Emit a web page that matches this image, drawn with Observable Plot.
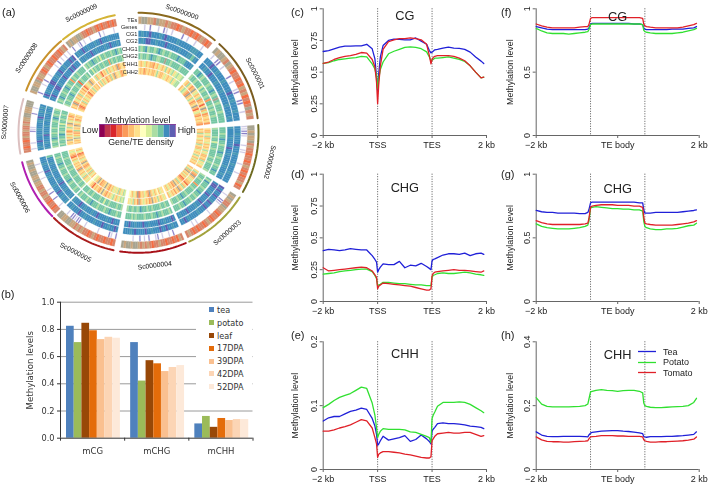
<!DOCTYPE html>
<html><head><meta charset="utf-8">
<script src="https://cdn.jsdelivr.net/npm/d3@7"></script>
<script src="https://cdn.jsdelivr.net/npm/@observablehq/plot@0.6"></script>
<style>
html,body{margin:0;padding:0;background:#fff}
#root{position:relative;width:709px;height:484px;overflow:hidden;font-family:"Liberation Sans",Arial,sans-serif;color:#222;filter:blur(0.3px)}
#root>svg,#root>div{position:absolute}
.tag{font-size:11px;line-height:12px}
</style></head><body><div id="root"></div>
<script>
// ---------- panel (a) data ----------
const paletteKeys = "abcdefghijklmnopqrs".split("");
const paletteColors = ["#8e0152","#c0354d","#d9262a","#f46d43","#fb9a5a","#fdbf6f","#fee08b","#ffffbf","#d9ef9b","#abdda4","#74c6a3","#3f8dbd","#5e5fb2",
  "#a8a491","#c9a67f","#d8866a","#8a80c8","#cfcbe6","#4a9bb5"];
const legendKeys = "abcdefghijklm".split("");
const sectorNames = ["Sc0000000","Sc0000001","Sc0000002","Sc0000003","Sc0000004","Sc0000005","Sc0000006","Sc0000007","Sc0000008","Sc0000009"];
const sectorStart = [0,42.4,86.3,122.6,156.8,192,225.9,260,290.6,321];
const sectorEnd = [39.5,83,119.5,155,188.8,224.8,255.8,286.4,319.8,348.6];
const sectorColors = ["#8b6a1e","#7a5c1f","#6e6a20","#a2a23c","#a81018","#a81c1c","#b01fb0","#dcc0c0","#c8922c","#d4b436"];
const labelAngle = [19.8,63,102.6,138.4,173,207.8,241.5,274.5,303.8,334.5];
const labelRadius = [128.5,131,134.6,133.6,133.6,135,135,134,134.7,133];
const trackNames = ["TEs","Genes","CG1","CG2","CHG1","CHG2","CHH1","CHH2"];
const trackOuter = [116,108.5,102,95,87,79.5,72,65];
const trackInner = [109,103,96,89,81,73.5,66,58.5];
const trackLabelRadius = [112.7,106,99,92,84,76.7,68.7,61];
const trackCellShare = [1,.45,1,1,1,1,1,1];
const sector0 = ["onnoopnoopoppdpoppdpdpopdp","..r.q..r.qr.r...q.r..r..r.","lsllmlllslmllllslllllsssll","lslmmllslllmlllllslllssksl","kjksjkkjkskjkkjkkkskkkslls","kjkkjkskkjjkknkkjkkkkjkkkk","gfgifgffegfigfgjgfijgijiij","gfgefgfgffgjgffgigfggjgijj"];
const sector1 = ["nonnopnopdppdpdopodpdpnpop",".r.qq.r...q.r..rq..qq..r..","lllmllslllsllllmllslllslll","llsllmlllslllslllllsllllsl","kkskjkkkjkkskjknkjkkkjkkkk","jkkjkkkikjkkjkekkjkjkkjkkk","gfjgefngifgjefgdgnfiefgfge","fgjifenfgjgefgnfdgifegfgfe"];
const sector2 = ["nnonoonpoppdppdpopdpdppodp","rrqqr...r.rr....r...r.....","lllsllllmlllsllllslllsllll","sllllsllllmllslllllslllsll","kkkjkkskkjkkkskkjkkkjkkskk","jkkkkjkkikkkjkkkkjkkjkkkkj","gffigjfggifgfgjgiffgfjgigf","fgfjgfgifgfjgffigfgjgfifgf"];
const sector3 = ["nonoppnoopdppdpopdppdpdpop","..r..qqr.....r......r.r....","mlmllmllsmllmlllsllllslmll","lmmllslmllllmllsllllmlllsl","kjskkkjkkskkjkkjkkkskkjkkk","jkkjkkkekkjkkkkjkkskkjkkkj","gjfenfgigffdgfjgfnfgegfgif","fgjfngfifgdefgjfgnfegfgifg"];
const sector4 = ["podpdppdppoppdpopoponnonnon","...q.r..r.qr..q.r.q..r....","llsllmllmlllsllmllllmlslll","lmlllsllmllllsllmlllsllmll","kjkkkjkkskkjkkkjkkkkjkjkkk","kkjkkjkkkkjkkjkkkskjkkjkkj","gigfgjgfgnfegfgigfnegfjgig","ggifhgfigfnefgifgfdnfgifgh"];
const sector5 = ["pdppdppdpopdppopopoonnoonn","q.rq....r.....r..qqrqq.r..","lmllsllmlllsllllsllmlllsll","lllmllsllllmllslllsllmllls","kkjkkkskkjkkkjkkkskkjkkkjk","jkkjkkkkjkkikkjkkkkjkkjkkk","jijgifgjigfgefgngefgfgdfgh","ijgifjgigifgefgngffegnfgih"];
const sector6 = ["ppdppdppoppoppoonoonnonnon",".r...q..q.r.....r..r...r..","sllsllmlllsllllsllmlllslll","lslllslllmllsllllslllslllk","kkjkkkjkskkkjkkkjkkskkkjkk","jkkjkkkkjkkkkjkkjkkkkjkkkk","gigfjgifgfnegfgfgifgdefgig","fgifjgfigfefgnfgifgfedgifg"];
const sector7 = ["ppdppdpoppoppopoonnooonnn",".r..r.....qrr......q..r..","lsllmllsllslllslmllslsl","sllslllmslllsllslllslls","jkkjkskkjkkjkkkjkskjkkj","kjkkjkkskjkkjkikkjkkjkk","gfgngfifgefgjgfngifgefg","fgfgnifgefjgfgnfgifegfg"];
const sector8 = ["onnoonpoopdpopdppdppdpop",".q...r.q..r....r.q.r.r.r","lmlslllmmllsllmllslllmlm","llmlllmmlslllmllllmlmlll","kjkskkjkkskjkkekjkkjkkkk","jkkjkkkskjkkkjkkdkjkkkjk","fgfnegifgfjgfgegdfgifnfg","gfedfgfjgfigfgedgfgjgfgf"];
const sector9 = ["nonoonnoppdppopdpdppdpdp",".q..rq.r..r....q.r....r.","lsllmllslllsllmlllslllll","sllslllmllsllllsllmlllsl","jkjkkskkjkikkjkkkjkkskjk","kkikjkkjkkjkkkekjkkjkkkj","gjfgifdgfgjgfgifgfnefggf","fgjgfigefgfjgfnfggifefgg"];
const sectorTracks = [sector0,sector1,sector2,sector3,sector4,sector5,sector6,sector7,sector8,sector9];

// ---------- panel (b) data ----------
const barGroups = ["mCG","mCHG","mCHH"];
const barSeries = ["tea","potato","leaf","17DPA","39DPA","42DPA","52DPA"];
const barColors = ["#4f81bd","#9bbb59","#984807","#e46c0a","#fac090","#fcd5b5","#fde9d9"];
const mCG = [.823,.703,.845,.79,.725,.742,.735];
const mCHG = [.703,.42,.57,.547,.49,.52,.534];
const mCHH = [.105,.16,.08,.145,.13,.137,.137];

// ---------- panels (c-h) data ----------
const species = ["Tea","Potato","Tomato"];
const speciesColors = ["#2020d8","#30e030","#e02028"];
const geneX = [0,.1,.2,.3,.4,.5,.6,.7,.8,.9,.95,.98,1,1.02,1.05,1.1,1.2,1.3,1.4,1.5,1.6,1.7,1.8,1.9,1.95,1.98,2,2.02,2.05,2.1,2.2,2.3,2.4,2.5,2.6,2.7,2.8,2.9,2.95];
const teX = [0,.1,.2,.3,.4,.5,.6,.7,.8,.9,.95,.97,1,1.03,1.1,1.2,1.3,1.4,1.5,1.6,1.7,1.8,1.9,1.96,1.98,2,2.03,2.1,2.2,2.3,2.4,2.5,2.6,2.7,2.8,2.9,2.95];
const cgTea = [.663,.67,.684,.697,.705,.705,.707,.708,.72,.684,.605,.46,.355,.487,.62,.71,.75,.76,.758,.755,.755,.77,.745,.72,.67,.653,.658,.665,.676,.68,.69,.697,.69,.687,.68,.658,.62,.587,.568];
const cgPotato = [.57,.575,.59,.60,.605,.61,.615,.625,.62,.565,.525,.47,.37,.45,.52,.58,.645,.665,.68,.695,.70,.695,.685,.66,.62,.59,.595,.60,.61,.61,.615,.62,.61,.60,.585,.55,.50,.455,.46];
const cgTomato = [.57,.58,.60,.615,.625,.63,.64,.655,.65,.60,.54,.42,.25,.40,.55,.68,.74,.755,.765,.765,.77,.765,.755,.72,.63,.565,.60,.615,.625,.63,.63,.63,.625,.61,.59,.55,.50,.455,.46];
const chgTea = [.40,.41,.405,.40,.405,.415,.41,.405,.405,.36,.33,.31,.23,.25,.27,.295,.29,.29,.315,.265,.285,.28,.30,.275,.26,.25,.32,.33,.335,.345,.365,.375,.375,.37,.38,.36,.375,.38,.37];
const chgPotato = [.215,.22,.225,.235,.24,.245,.25,.255,.255,.235,.205,.18,.125,.13,.135,.15,.15,.145,.14,.14,.135,.13,.13,.125,.125,.125,.19,.205,.21,.22,.225,.22,.22,.225,.23,.225,.215,.21,.205];
const chgTomato = [.265,.24,.245,.25,.255,.26,.265,.27,.265,.24,.21,.19,.10,.12,.13,.145,.14,.135,.13,.125,.12,.11,.10,.09,.09,.10,.20,.22,.23,.235,.24,.245,.25,.245,.245,.24,.235,.23,.24];
const chhTea = [.076,.081,.083,.083,.087,.091,.093,.096,.094,.08,.068,.055,.038,.04,.045,.052,.046,.048,.05,.053,.044,.047,.054,.048,.044,.04,.06,.063,.066,.072,.073,.072,.072,.071,.07,.068,.067,.066,.064];
const chhPotato = [.097,.102,.108,.113,.116,.119,.124,.129,.127,.104,.085,.065,.05,.055,.06,.064,.063,.063,.063,.062,.059,.058,.055,.052,.05,.042,.08,.085,.09,.099,.105,.105,.105,.106,.105,.102,.097,.092,.089];
const chhTomato = [.06,.06,.062,.065,.067,.07,.074,.078,.076,.065,.05,.04,.019,.024,.026,.028,.028,.027,.026,.024,.023,.021,.019,.018,.018,.02,.045,.048,.052,.056,.057,.058,.057,.057,.058,.058,.055,.052,.053];
const teCgTea = [.86,.85,.84,.835,.835,.835,.835,.835,.835,.835,.84,.85,.88,.885,.885,.885,.885,.885,.885,.885,.885,.88,.88,.875,.85,.84,.835,.835,.835,.835,.835,.84,.84,.84,.845,.85,.86];
const teCgPotato = [.845,.825,.81,.805,.805,.805,.80,.805,.81,.815,.82,.835,.875,.88,.88,.88,.88,.88,.88,.88,.88,.88,.88,.875,.83,.82,.815,.81,.805,.805,.805,.805,.81,.815,.825,.835,.845];
const teCgTomato = [.88,.865,.855,.85,.85,.85,.85,.85,.855,.86,.86,.875,.925,.93,.93,.93,.93,.93,.93,.93,.93,.93,.93,.925,.88,.865,.86,.855,.85,.85,.85,.85,.85,.855,.865,.875,.885];
const teChgTea = [.715,.705,.70,.70,.695,.695,.695,.695,.69,.69,.70,.72,.775,.78,.78,.78,.78,.78,.78,.78,.78,.78,.775,.775,.72,.695,.695,.695,.70,.70,.70,.70,.70,.705,.71,.715,.72];
const teChgPotato = [.61,.59,.58,.575,.57,.57,.57,.575,.58,.59,.60,.63,.735,.74,.745,.74,.735,.73,.73,.725,.725,.72,.72,.71,.63,.59,.58,.57,.565,.565,.57,.57,.575,.585,.595,.60,.615];
const teChgTomato = [.635,.62,.61,.605,.605,.605,.605,.605,.605,.61,.615,.65,.74,.75,.755,.76,.76,.76,.755,.755,.755,.75,.75,.74,.66,.615,.61,.605,.60,.60,.60,.60,.605,.61,.615,.625,.635];
const teChhTea = [.118,.108,.104,.103,.103,.104,.104,.104,.104,.103,.102,.108,.114,.116,.118,.12,.121,.122,.122,.12,.119,.117,.115,.112,.103,.102,.101,.103,.103,.103,.104,.104,.105,.106,.108,.11,.118];
const teChhPotato = [.225,.205,.198,.196,.196,.196,.196,.197,.198,.20,.205,.22,.243,.245,.248,.25,.248,.247,.245,.247,.248,.248,.245,.24,.208,.20,.198,.195,.194,.194,.195,.196,.197,.198,.20,.21,.223];
const teChhTomato = [.102,.093,.088,.087,.087,.086,.086,.087,.088,.089,.09,.096,.102,.103,.104,.106,.106,.106,.105,.105,.104,.104,.104,.102,.093,.09,.088,.086,.086,.087,.087,.088,.089,.09,.092,.095,.102];

const root = document.getElementById("root");
const add = (el, left, top) => { el.style.position="absolute"; el.style.left=left+"px"; el.style.top=top+"px"; root.appendChild(el); return el; };
const sans = '"Liberation Sans",Arial,sans-serif';

// ---------- panel (a): circular tracks, polar angle/radius projection ----------
const polar = d3.geoTransform({point(a, r){
  const t = a*Math.PI/180;
  this.stream.point(138 + r*Math.sin(t), 132.3 - r*Math.cos(t));
}});
const cells = [];
sectorTracks.forEach((tracks, s) => tracks.forEach((str, t) => {
  const n = str.length, a0 = sectorStart[s], step = (sectorEnd[s]-a0)/n;
  str.split("").forEach((c, i) => {
    if (c === ".") return;
    const a1 = a0+i*step, a2 = a1+step*trackCellShare[t], am = (a1+a2)/2, r1 = trackInner[t], r2 = trackOuter[t];
    cells.push({c, type:"Polygon", coordinates:[[[a1,r1],[a1,r2],[am,r2],[a2,r2],[a2,r1],[am,r1],[a1,r1]]]});
  });
}));
const ringMarks = sectorStart.map((a0,s) => {
  const coords = d3.range(0,25).map(k => [a0+(sectorEnd[s]-a0)*k/24, 120]);
  return Plot.geo([{type:"LineString",coordinates:coords}],{stroke:sectorColors[s],strokeWidth:2,fill:"none"});
});
const labelRows = sectorNames.map((name,i)=>({name,a:labelAngle[i],r:labelRadius[i]}));
const trackRows = trackNames.map((name,i)=>({name,r:trackLabelRadius[i]}));
add(Plot.plot({
  width:280,height:270,margin:0,style:{background:"transparent",filter:"blur(0.35px)"},
  projection:{stream:polar.stream},
  color:{type:"ordinal",domain:paletteKeys,range:paletteColors},
  marks:[
    Plot.geo(cells,{fill:"c",stroke:"c",strokeWidth:.2}),
    ...ringMarks,
    Plot.text(labelRows,{x:"a",y:"r",text:"name",fontSize:6.8,fontFamily:sans,fill:"#111",
      rotate:d=>d.a<135?d.a:(d.a<270?d.a-180:d.a-360)}),
    Plot.text(trackRows,{x:()=>-0.6,y:"r",text:"name",textAnchor:"end",fontSize:5.6,fontFamily:sans,fill:"#222"})
  ]
}),0,0);

// legend bar of panel (a)
add(Plot.plot({
  width:76.4,height:13,margin:0,
  x:{type:"band",domain:legendKeys,padding:0,round:false,axis:null},
  color:{type:"ordinal",domain:paletteKeys,range:paletteColors},
  marks:[Plot.cell(legendKeys,{x:d=>d,fill:d=>d}),Plot.frame({stroke:"#8a3a9a",strokeWidth:.8})]
}),99.3,124.3);
[["Methylation level",137.7,120],["Gene/TE density",141,141.7],["Low",90,129.5],["High",186.7,129.5]].forEach(([t,x,y])=>{
  const d=document.createElement("div");d.textContent=t;
  d.style.cssText="font-size:8.8px;white-space:nowrap;transform:translate(-50%,-50%);line-height:10px;color:#222";
  add(d,x,y);
});

// ---------- panel (b) ----------
const barGroupValues = [mCG,mCHG,mCHH];
const barRows = barGroups.flatMap((g,gi)=>barSeries.map((s,si)=>({g:gi,s,v:barGroupValues[gi][si],x1:gi+.0935+si*.12,x2:gi+.0935+(si+1)*.12})));
const bf = '"DejaVu Sans",sans-serif';
add(Plot.plot({
  width:280,height:204,marginLeft:60,marginRight:27.5,marginTop:21.7,marginBottom:46.3,
  x:{domain:[0,3],axis:null},
  y:{domain:[0,1],axis:null},
  color:{domain:barSeries,range:barColors},
  marks:[
    Plot.ruleY([.2,.4,.6,.8,1],{stroke:"#9a9a9a",strokeWidth:1}),
    Plot.rectY(barRows,{x1:"x1",x2:"x2",y:"v",fill:"s"}),
    Plot.ruleY([0],{stroke:"#333",strokeWidth:1}),
    Plot.ruleX([0],{stroke:"#333",strokeWidth:1}),
    Plot.axisX([0,1,2,3],{label:null,tickSize:3,tickFormat:()=>"",stroke:"#333"}),
    Plot.axisX([.5,1.5,2.5],{label:null,tickSize:0,tickPadding:10,tickFormat:d=>barGroups[d-.5],fontSize:8.5,fontFamily:bf,fill:"#333"}),
    Plot.axisY([0,.2,.4,.6,.8,1],{label:null,tickSize:3,tickPadding:3,tickFormat:d3.format(".1f"),fontSize:8.2,fontFamily:bf,fill:"#333",stroke:"#333"}),
    Plot.text(["Methylation levels"],{frameAnchor:"left",dx:-30,rotate:-90,textAnchor:"middle",fontSize:8.6,fontFamily:bf,fill:"#333"})
  ]
}),0,280);
const barLegend = document.createElement("div");
barLegend.style.cssText="width:56px;height:90px;background:#fff;font:8.1px "+bf+";color:#333";
barSeries.forEach((s,i)=>{
  const r=document.createElement("div");
  r.style.cssText="height:12.8px;display:flex;align-items:center;padding-left:13px";
  r.innerHTML='<span style="display:inline-block;width:5px;height:5px;margin-right:3px;background:'+barColors[i]+'"></span>'+s;
  barLegend.appendChild(r);
});
add(barLegend,196,303.6);

// ---------- panels (c-h) ----------
function panel(opt){
  const rows = species.flatMap((s,si)=>opt.series[si].map((v,i)=>({s,x:opt.xs[i],v})));
  return add(Plot.plot({
    width:opt.width,height:opt.height,marginLeft:opt.ml,marginRight:opt.mr,marginTop:opt.mt,marginBottom:opt.mb,
    x:{domain:[0,3],axis:null},
    y:{domain:[0,opt.ymax],axis:null},
    color:{domain:species,range:speciesColors},
    marks:[
      Plot.ruleX([1,2],{stroke:"#555",strokeWidth:1,strokeDasharray:"1,1.5"}),
      Plot.ruleX([0],{stroke:"#666",strokeWidth:1}),
      Plot.ruleY([0],{stroke:"#666",strokeWidth:1}),
      Plot.line(rows,{x:"x",y:"v",z:"s",stroke:"s",strokeWidth:1.3}),
      Plot.axisX(opt.xticks,{label:null,tickSize:3,tickPadding:3,stroke:"#666",fill:"#222",fontSize:9,fontFamily:sans,tickFormat:(d)=>opt.xlabels[opt.xticks.indexOf(d)]}),
      Plot.axisY(opt.yticks,{label:null,tickSize:3,tickPadding:3,stroke:"#666",fill:"#222",fontSize:9,fontFamily:sans,tickRotate:-90,textAnchor:"middle",tickFormat:d=>String(d)}),
      Plot.text(["Methylation level"],{frameAnchor:"left",dx:opt.ldx,rotate:-90,textAnchor:"middle",fontSize:8.8,fontFamily:sans,fill:"#222"}),
      Plot.text([opt.title],{frameAnchor:"top",dy:opt.tdy,fontSize:12.8,fontFamily:sans,fill:"#222"})
    ]
  }),opt.left,opt.top);
}
const geneTicks=[0,1,2,3], geneLabels=["\u22122 kb","TSS","TES","2 kb"];
const teTicks=[0,1.5,3], teLabels=["\u22122 kb","TE body","2 kb"];
const L={left:290,width:210,ml:32.7,mr:14,ldx:-27.7,xs:geneX,xticks:geneTicks,xlabels:geneLabels};
const R={left:500,width:209,ml:35.7,mr:10.3,ldx:-25.7,xs:teX,xticks:teTicks,xlabels:teLabels};
const T1={top:0,height:160,mt:8.3,mb:25}, T2={top:160,height:160,mt:13.7,mb:19}, T3={top:320,height:164,mt:21.3,mb:15};
panel({...L,...T1,ymax:1,yticks:[0,.25,.5,.75,1],title:"CG",tdy:1.7,series:[cgTea,cgPotato,cgTomato]});
panel({...L,...T2,ymax:1,yticks:[0,.25,.5,.75,1],title:"CHG",tdy:8.3,series:[chgTea,chgPotato,chgTomato]});
panel({...L,...T3,ymax:.2,yticks:[0,.1,.2],title:"CHH",tdy:6.7,series:[chhTea,chhPotato,chhTomato]});
panel({...R,...T1,ymax:1,yticks:[0,.5,1],title:"CG",tdy:3.4,series:[teCgTea,teCgPotato,teCgTomato]});
panel({...R,...T2,ymax:1,yticks:[0,.5,1],title:"CHG",tdy:9.3,series:[teChgTea,teChgPotato,teChgTomato]});
panel({...R,...T3,ymax:.4,yticks:[0,.2,.4],title:"CHH",tdy:7.7,series:[teChhTea,teChhPotato,teChhTomato]});

// legend of panel (h)
const hLegend=document.createElement("div");
hLegend.style.cssText="font-size:9px;color:#222";
species.forEach((s,i)=>{
  const r=document.createElement("div");
  r.style.cssText="height:10.4px;display:flex;align-items:center;line-height:10px";
  r.innerHTML='<svg width="18" height="3" style="margin-right:7px"><line x1="0" x2="18" y1="1.5" y2="1.5" stroke-width="1.3" stroke="'+speciesColors[i]+'"/></svg>'+s;
  hLegend.appendChild(r);
});
add(hLegend,638,346.8);

// panel letters
[["(a)",2,6],["(b)",1,288],["(c)",291,6],["(d)",291,168],["(e)",291,329],["(f)",501,6],["(g)",501,168],["(h)",501,329]].forEach(([t,x,y])=>{
  const d=document.createElement("div");d.className="tag";d.textContent=t;add(d,x,y);
});
</script></body></html>
